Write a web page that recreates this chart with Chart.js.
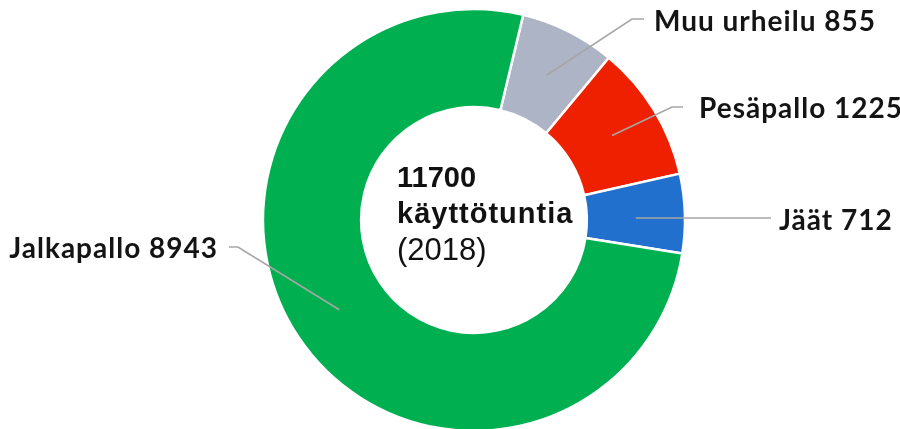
<!DOCTYPE html>
<html>
<head>
<meta charset="utf-8">
<script src="https://cdn.jsdelivr.net/npm/chart.js@4"></script>
<style>
  html, body { margin: 0; padding: 0; background: #fff; overflow: hidden; }
  #wrap { width: 900px; height: 429px; }
</style>
</head>
<body>
<div id="wrap"><canvas id="donitsi" width="900" height="429"></canvas></div>
<script>
	// käyttötunnit lajeittain (2018)
	const lajit = ['Muu urheilu', 'Pesäpallo', 'Jäät', 'Jalkapallo'];
	const tunnit = [855, 1225, 712, 8943];
	const varit = ['#adb4c6', '#ee2000', '#2270ce', '#00b050'];
	const keskiTeksti = ['11700', 'käyttötuntia', '(2018)'];

	// selitteiden paikat (Excel-tyyliin käsin sijoitetut)
	const selitePaikat = [
		{ polvi: [632, 19], loppu: [644, 19], tx: 654, ty: 31, align: 'left' },
		{ polvi: [672, 107], loppu: [683, 107], tx: 699, ty: 118, align: 'left' },
		{ polvi: null, loppu: [771, 218], tx: 779, ty: 230, align: 'left' },
		{ polvi: [238, 247], loppu: [229, 247], tx: 218, ty: 258, align: 'right' }
	];

	const selitteet = {
		id: 'selitteet',
		afterDatasetsDraw(chart) {
			const c = chart.ctx;
			const arcs = chart.getDatasetMeta(0).data;
			c.save();
			// viivat
			c.strokeStyle = '#a6a6a6';
			c.lineWidth = 1.6;
			arcs.forEach((arc, i) => {
				const p = arc.getCenterPoint();
				const s = selitePaikat[i];
				c.beginPath();
				c.moveTo(p.x, s.polvi ? p.y : s.loppu[1]);
				if (s.polvi) c.lineTo(s.polvi[0], s.polvi[1]);
				c.lineTo(s.loppu[0], s.loppu[1]);
				c.stroke();
			});
			// tekstit
			c.fillStyle = '#141414';
			c.font = 'bold 28px Lato';
			c.letterSpacing = '1px';
			c.textBaseline = 'alphabetic';
			arcs.forEach((arc, i) => {
				const s = selitePaikat[i];
				c.textAlign = s.align;
				c.fillText(lajit[i] + ' ' + tunnit[i], s.tx, s.ty);
			});
			// keskiteksti
			const m = arcs[0];
			const x0 = m.x - 77;
			c.textAlign = 'left';
			c.fillStyle = '#111';
			c.letterSpacing = '0px';
			c.font = 'bold 29px "Liberation Sans"';
			c.fillText(keskiTeksti[0], x0, m.y - 33);
			c.letterSpacing = '1px';
			c.fillText(keskiTeksti[1], x0, m.y + 3);
			c.letterSpacing = '0px';
			c.font = '31px "Liberation Sans"';
			c.fillText(keskiTeksti[2], x0, m.y + 40);
			c.restore();
		}
	};

	const ctx = document.getElementById('donitsi').getContext('2d');
	const chart = new Chart(ctx, {
		type: 'doughnut',
		data: {
			labels: lajit,
			datasets: [{
				data: tunnit,
				backgroundColor: varit,
				borderColor: '#ffffff',
				borderWidth: 2.5,
				clip: false
			}]
		},
		options: {
			responsive: false,
			animation: false,
			rotation: 13.5,
			radius: 211,
			cutout: '53.5%',
			layout: { padding: { left: 48, top: 11 } },
			plugins: {
				legend: { display: false },
				tooltip: { enabled: false }
			}
		},
		plugins: [selitteet]
	});
</script>
</body>
</html>
